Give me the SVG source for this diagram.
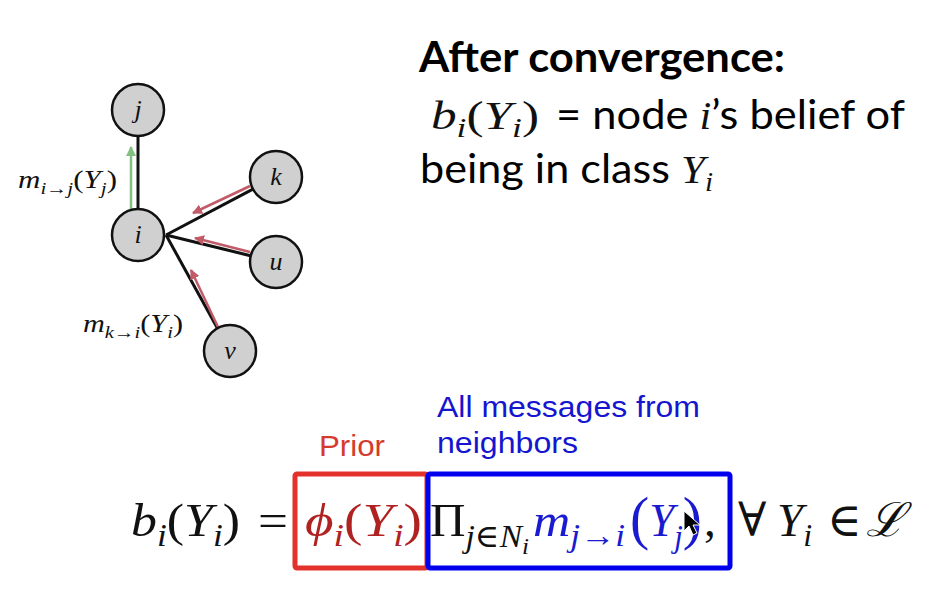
<svg xmlns="http://www.w3.org/2000/svg" width="948" height="610" viewBox="0 0 948 610">
<defs>
<marker id="ahR" viewBox="0 0 10 10" refX="9" refY="5" markerWidth="4" markerHeight="4" orient="auto" markerUnits="strokeWidth"><path d="M0,0 L10,5 L0,10 z" fill="#c25b68"/></marker>
<marker id="ahG" viewBox="0 0 10 10" refX="9" refY="5" markerWidth="4" markerHeight="4" orient="auto" markerUnits="strokeWidth"><path d="M0,0 L10,5 L0,10 z" fill="#82c082"/></marker>
</defs>
<style>
.node circle{fill:#d0d0d0;stroke:#111;stroke-width:2.5}
.nl{font-family:"Liberation Serif","DejaVu Serif",serif;font-style:italic;font-size:26px;fill:#111;text-anchor:middle}
.edge{stroke:#111;stroke-width:3;fill:none}
.msgR{stroke:#c25b68;stroke-width:2.5;fill:none;marker-end:url(#ahR)}
.msgG{stroke:#82c082;stroke-width:2.5;fill:none;marker-end:url(#ahG)}
.m{font-family:"Liberation Serif","DejaVu Serif",serif;font-style:italic;fill:#111}
.up{font-style:normal}
.cal{font-family:Lato,"Open Sans",sans-serif;fill:#000}
.ar{font-family:"Liberation Sans",Arial,sans-serif;font-size:29px}
</style>
<rect width="948" height="610" fill="#fff"/>

<g id="connectors">
<line class="edge" x1="138" y1="209" x2="138" y2="110"/>
<line class="edge" x1="166" y1="235" x2="276" y2="177"/>
<line class="edge" x1="166" y1="235" x2="276" y2="262"/>
<line class="edge" x1="166" y1="235" x2="230" y2="351"/>
<line class="msgG" x1="131" y1="210" x2="131" y2="147"/>
<line class="msgR" x1="250" y1="186" x2="193" y2="213"/>
<line class="msgR" x1="250" y1="252" x2="195" y2="238"/>
<line class="msgR" x1="218" y1="327" x2="191" y2="270"/>
</g>

<g id="node-j" class="node"><circle cx="138" cy="110" r="26"/><text class="nl" x="138" y="118">j</text></g>
<g id="node-i" class="node"><circle cx="138" cy="235" r="26"/><text class="nl" x="138" y="243">i</text></g>
<g id="node-k" class="node"><circle cx="276" cy="177" r="26"/><text class="nl" x="276" y="185">k</text></g>
<g id="node-u" class="node"><circle cx="276" cy="262" r="26"/><text class="nl" x="276" y="270">u</text></g>
<g id="node-v" class="node"><circle cx="230" cy="351" r="26"/><text class="nl" x="230" y="359">v</text></g>

<g id="label-mij">
<text class="m" x="18" y="188" font-size="25" textLength="99" lengthAdjust="spacingAndGlyphs">m<tspan font-size="17" dy="6">i→j</tspan><tspan class="up" dy="-6">(</tspan>Y<tspan font-size="17" dy="6">j</tspan><tspan class="up" dy="-6">)</tspan></text>
</g>
<g id="label-mki">
<text class="m" x="83" y="332" font-size="25" textLength="100" lengthAdjust="spacingAndGlyphs">m<tspan font-size="17" dy="6">k→i</tspan><tspan class="up" dy="-6">(</tspan>Y<tspan font-size="17" dy="6">i</tspan><tspan class="up" dy="-6">)</tspan></text>
</g>

<g id="heading">
<text class="cal" x="419" y="72" font-size="42" font-weight="bold" textLength="366" lengthAdjust="spacingAndGlyphs">After convergence:</text>
<text class="m" x="431" y="129" font-size="39" textLength="108" lengthAdjust="spacingAndGlyphs">b<tspan font-size="27" dy="8">i</tspan><tspan class="up" dy="-8">(</tspan>Y<tspan font-size="27" dy="8">i</tspan><tspan class="up" dy="-8">)</tspan></text>
<text class="cal" x="556" y="129" font-size="40" textLength="349" lengthAdjust="spacingAndGlyphs">= node <tspan class="m" font-size="39">i</tspan>’s belief of</text>
<text class="cal" x="420" y="183" font-size="40" textLength="293" lengthAdjust="spacingAndGlyphs">being in class <tspan class="m" font-size="40">Y</tspan><tspan class="m" font-size="27" dy="8">i</tspan></text>
</g>

<g id="prior-label"><text class="ar" x="319" y="456" fill="#d43b2e" textLength="66" lengthAdjust="spacingAndGlyphs">Prior</text></g>
<g id="messages-label" fill="#1515d0"><text class="ar" x="437" y="417" textLength="263" lengthAdjust="spacingAndGlyphs">All messages from</text><text class="ar" x="437" y="453" textLength="141" lengthAdjust="spacingAndGlyphs">neighbors</text></g>

<g id="prior-box"><rect x="295" y="474" width="132" height="94" rx="2" fill="none" stroke="#e3322b" stroke-width="5"/></g>
<g id="messages-box"><rect x="428" y="474" width="302" height="94" rx="2" fill="none" stroke="#0000ee" stroke-width="5"/></g>

<g id="equation" class="m" font-size="47">
<text x="131" y="536" textLength="109" lengthAdjust="spacingAndGlyphs">b<tspan font-size="32" dy="10">i</tspan><tspan class="up" dy="-10">(</tspan>Y<tspan font-size="32" dy="10">i</tspan><tspan class="up" dy="-10">)</tspan></text>
<text x="258" y="536" class="up" textLength="30" lengthAdjust="spacingAndGlyphs">=</text>
<text x="305" y="536" fill="#b02222" textLength="117" lengthAdjust="spacingAndGlyphs">ϕ<tspan font-size="32" dy="10">i</tspan><tspan class="up" dy="-10">(</tspan>Y<tspan font-size="32" dy="10">i</tspan><tspan class="up" dy="-10">)</tspan></text>
<text x="430" y="536" textLength="99" lengthAdjust="spacingAndGlyphs"><tspan class="up">Π</tspan><tspan font-size="32" dy="11">j∈N</tspan><tspan font-size="24" dy="7">i</tspan></text>
<text x="533" y="536" fill="#1a1ad0" textLength="92" lengthAdjust="spacingAndGlyphs">m<tspan font-size="32" dy="10">j→i</tspan></text>
<text x="630" y="538" fill="#1a1ad0" textLength="72" lengthAdjust="spacingAndGlyphs"><tspan class="up" font-size="60">(</tspan><tspan dy="-2">Y</tspan><tspan font-size="32" dy="11">j</tspan><tspan class="up" font-size="60" dy="-9">)</tspan></text>
<text x="704" y="536" class="up">,</text>
<text x="738" y="536" class="up">∀</text>
<text x="777" y="536">Y<tspan font-size="32" dy="10">i</tspan></text>
<text x="827" y="536" class="up">∈</text>
<text x="866" y="536">ℒ</text>
</g>

<g id="cursor"><path d="M684,511 L684,531 L689,526 L693,535 L697,533 L693,525 L700,525 Z" fill="#000" stroke="#fff" stroke-width="1"/></g>
</svg>
